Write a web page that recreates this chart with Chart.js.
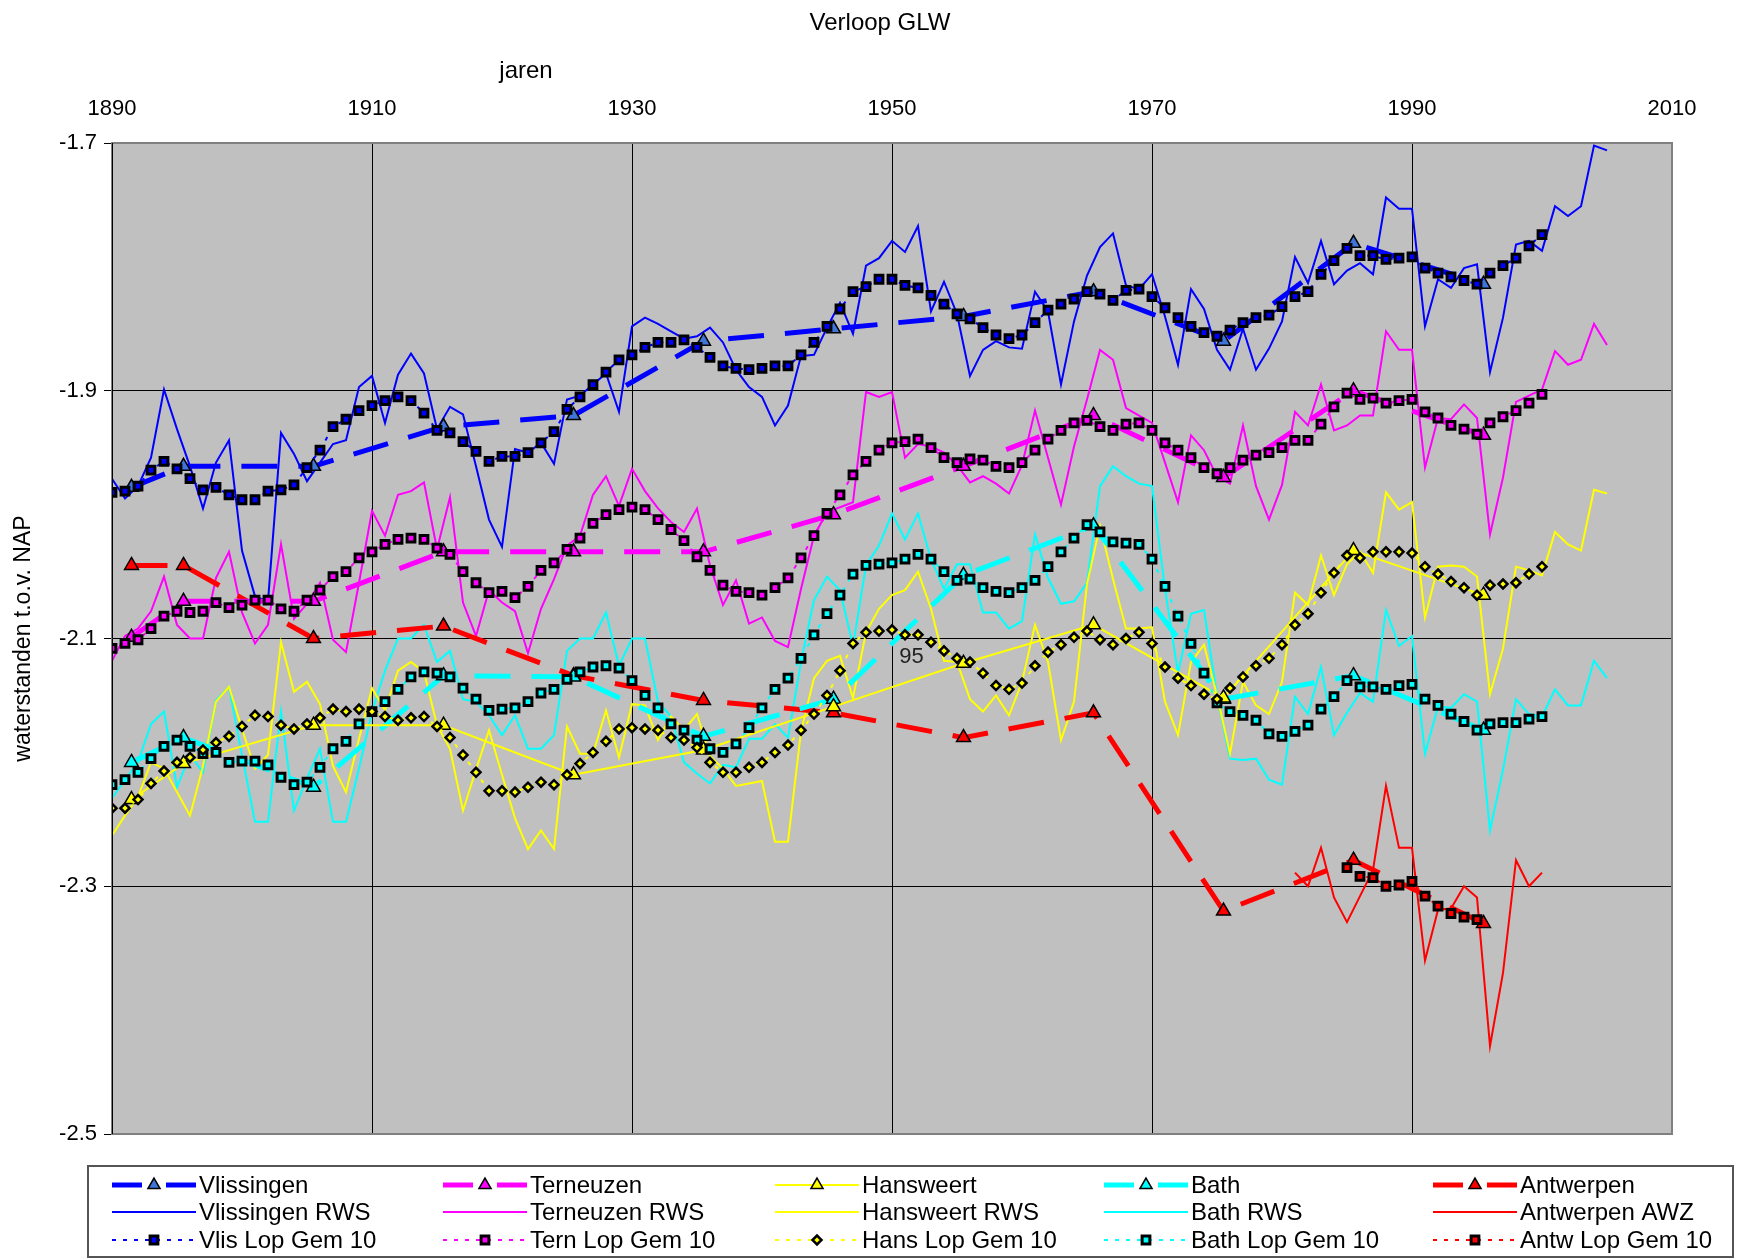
<!DOCTYPE html>
<html>
<head>
<meta charset="utf-8">
<title>Verloop GLW</title>
<script src="https://cdn.jsdelivr.net/npm/chart.js@4.4.1/dist/chart.umd.min.js"></script>
<style>
  html, body { margin: 0; padding: 0; background: #fff; }
  canvas { display: block; }
</style>
</head>
<body>
<canvas id="myChart" width="1740" height="1258"></canvas>
<script>
// jaren voor de jaarlijkse reeksen
const years = [
  1890, 1891, 1892, 1893, 1894, 1895, 1896, 1897, 1898, 1899,
  1900, 1901, 1902, 1903, 1904, 1905, 1906, 1907, 1908, 1909,
  1910, 1911, 1912, 1913, 1914, 1915, 1916, 1917, 1918, 1919,
  1920, 1921, 1922, 1923, 1924, 1925, 1926, 1927, 1928, 1929,
  1930, 1931, 1932, 1933, 1934, 1935, 1936, 1937, 1938, 1939,
  1940, 1941, 1942, 1943, 1944, 1945, 1946, 1947, 1948, 1949,
  1950, 1951, 1952, 1953, 1954, 1955, 1956, 1957, 1958, 1959,
  1960, 1961, 1962, 1963, 1964, 1965, 1966, 1967, 1968, 1969,
  1970, 1971, 1972, 1973, 1974, 1975, 1976, 1977, 1978, 1979,
  1980, 1981, 1982, 1983, 1984, 1985, 1986, 1987, 1988, 1989,
  1990, 1991, 1992, 1993, 1994, 1995, 1996, 1997, 1998, 1999,
  2000, 2001, 2002, 2003, 2004, 2005,
];

// midden van elk decennium (decadegemiddelden)
const decadeYears = [1891.5, 1895.5, 1905.5, 1915.5, 1925.5, 1935.5, 1945.5, 1955.5, 1965.5, 1975.5, 1985.5, 1995.5];

const vlissingen = [-1.978, -1.961, -1.961, -1.929, -1.920, -1.860, -1.850, -1.840, -1.820, -1.860, -1.781, -1.814];
const terneuzen = [-2.099, -2.070, -2.070, -2.030, -2.030, -2.030, -2.000, -1.961, -1.920, -1.970, -1.900, -1.936];
const hansweert = [-2.230, -2.201, -2.170, -2.170, -2.210, -2.190, -2.155, -2.120, -2.089, -2.148, -2.029, -2.065];
const bath = [-2.200, -2.180, -2.220, -2.130, -2.131, -2.179, -2.149, -2.049, -2.009, -2.149, -2.130, -2.174];
const antwerpen = [-2.041, -2.041, -2.100, -2.090, -2.130, -2.150, -2.160, -2.180, -2.160, -2.320, -2.279, -2.330];

// jaarwaarden 1890-2005
const vlissingenRws = [
  -1.971, -1.987, -1.977, -1.954, -1.899, -1.931, -1.961, -1.995, -1.958, -1.940,
  -2.029, -2.066, -2.070, -1.934, -1.951, -1.973, -1.958, -1.943, -1.940, -1.897,
  -1.888, -1.926, -1.887, -1.870, -1.886, -1.931, -1.913, -1.919, -1.961, -2.004,
  -2.026, -1.947, -1.950, -1.942, -1.959, -1.907, -1.904, -1.895, -1.886, -1.917,
  -1.848, -1.841, -1.846, -1.852, -1.858, -1.856, -1.849, -1.861, -1.883, -1.897,
  -1.905, -1.928, -1.912, -1.872, -1.871, -1.849, -1.829, -1.854, -1.799, -1.793,
  -1.779, -1.788, -1.767, -1.836, -1.812, -1.838, -1.888, -1.867, -1.860, -1.865,
  -1.866, -1.820, -1.836, -1.895, -1.844, -1.807, -1.784, -1.773, -1.815, -1.818,
  -1.806, -1.840, -1.879, -1.818, -1.834, -1.867, -1.883, -1.850, -1.883, -1.866,
  -1.844, -1.792, -1.813, -1.779, -1.814, -1.803, -1.797, -1.806, -1.744, -1.753,
  -1.753, -1.848, -1.810, -1.817, -1.801, -1.798, -1.885, -1.841, -1.782, -1.779,
  -1.787, -1.751, -1.759, -1.751, -1.702, -1.706,
];
const terneuzenRws = [
  -2.118, -2.098, -2.092, -2.078, -2.050, -2.089, -2.100, -2.100, -2.051, -2.030,
  -2.079, -2.104, -2.089, -2.024, -2.084, -2.072, -2.055, -2.101, -2.111, -2.055,
  -1.997, -2.017, -1.984, -1.981, -1.974, -2.028, -1.986, -2.071, -2.098, -2.061,
  -2.071, -2.078, -2.112, -2.076, -2.052, -2.025, -2.017, -1.984, -1.969, -1.993,
  -1.963, -1.981, -1.995, -2.006, -2.014, -1.995, -2.041, -2.073, -2.053, -2.088,
  -2.083, -2.102, -2.107, -2.060, -2.017, -1.998, -1.994, -1.990, -1.901, -1.905,
  -1.901, -1.954, -1.943, -1.945, -1.950, -1.960, -1.974, -1.969, -1.975, -1.983,
  -1.960, -1.916, -1.954, -1.992, -1.945, -1.907, -1.867, -1.875, -1.914, -1.920,
  -1.926, -1.958, -1.990, -1.936, -1.948, -1.969, -1.975, -1.928, -1.977, -2.004,
  -1.976, -1.917, -1.928, -1.895, -1.932, -1.928, -1.920, -1.920, -1.852, -1.867,
  -1.867, -1.962, -1.922, -1.923, -1.911, -1.922, -2.016, -1.970, -1.909, -1.904,
  -1.899, -1.868, -1.879, -1.875, -1.846, -1.863,
];
const hansweertRws = [
  -2.259, -2.243, -2.228, -2.200, -2.205, -2.224, -2.243, -2.203, -2.151, -2.139,
  -2.173, -2.205, -2.194, -2.103, -2.143, -2.135, -2.153, -2.203, -2.224, -2.181,
  -2.140, -2.158, -2.126, -2.119, -2.127, -2.170, -2.189, -2.239, -2.206, -2.174,
  -2.210, -2.245, -2.270, -2.255, -2.270, -2.171, -2.193, -2.193, -2.158, -2.196,
  -2.153, -2.154, -2.182, -2.163, -2.174, -2.161, -2.195, -2.205, -2.219, -2.217,
  -2.215, -2.264, -2.264, -2.175, -2.132, -2.118, -2.114, -2.148, -2.095, -2.076,
  -2.065, -2.061, -2.046, -2.076, -2.118, -2.119, -2.149, -2.159, -2.146, -2.162,
  -2.135, -2.089, -2.119, -2.182, -2.151, -2.056, -2.009, -2.052, -2.092, -2.092,
  -2.091, -2.151, -2.178, -2.119, -2.105, -2.146, -2.193, -2.135, -2.154, -2.161,
  -2.135, -2.063, -2.073, -2.033, -2.065, -2.040, -2.030, -2.047, -1.982, -1.996,
  -1.990, -2.083, -2.042, -2.041, -2.042, -2.050, -2.145, -2.108, -2.042, -2.045,
  -2.049, -2.014, -2.024, -2.029, -1.980, -1.983,
];
const bathRws = [
  -2.229, -2.214, -2.200, -2.169, -2.159, -2.220, -2.194, -2.208, -2.150, -2.139,
  -2.194, -2.248, -2.248, -2.159, -2.239, -2.213, -2.189, -2.248, -2.248, -2.205,
  -2.159, -2.126, -2.100, -2.100, -2.089, -2.119, -2.110, -2.149, -2.151, -2.162,
  -2.178, -2.162, -2.189, -2.189, -2.178, -2.110, -2.100, -2.100, -2.079, -2.122,
  -2.100, -2.100, -2.151, -2.163, -2.200, -2.209, -2.217, -2.202, -2.204, -2.181,
  -2.181, -2.169, -2.180, -2.119, -2.069, -2.050, -2.061, -2.106, -2.041, -2.025,
  -1.999, -2.020, -1.999, -2.036, -2.060, -2.040, -2.040, -2.079, -2.079, -2.092,
  -2.086, -2.016, -2.051, -2.072, -2.070, -2.055, -1.977, -1.961, -1.969, -1.975,
  -1.977, -2.060, -2.128, -2.080, -2.077, -2.146, -2.197, -2.198, -2.197, -2.214,
  -2.218, -2.147, -2.161, -2.123, -2.178, -2.160, -2.144, -2.151, -2.077, -2.106,
  -2.098, -2.193, -2.155, -2.156, -2.145, -2.151, -2.255, -2.206, -2.149, -2.161,
  -2.163, -2.141, -2.154, -2.154, -2.118, -2.132,
];
// Antwerpen AWZ loopt van 1981 tot 2000
const antwerpenAwz = [
  -2.289, -2.300, -2.269, -2.309, -2.329, -2.308, -2.287, -2.219, -2.269,
  -2.269, -2.360, -2.319, -2.318, -2.300, -2.309, -2.429, -2.370, -2.279, -2.300,
  -2.289,
];

// lopend gemiddelde over 10 jaar, 1890-2000
const vlisLop = [
  -1.982, -1.981, -1.977, -1.964, -1.957, -1.963, -1.971, -1.980, -1.978, -1.984,
  -1.988, -1.988, -1.981, -1.980, -1.976, -1.962, -1.948, -1.929, -1.923, -1.916,
  -1.912, -1.908, -1.905, -1.908, -1.918, -1.932, -1.934, -1.941, -1.949, -1.957,
  -1.953, -1.953, -1.950, -1.942, -1.933, -1.915, -1.905, -1.895, -1.885, -1.875,
  -1.871, -1.865, -1.861, -1.861, -1.859, -1.865, -1.873, -1.880, -1.882, -1.883,
  -1.882, -1.880, -1.880, -1.871, -1.861, -1.848, -1.834, -1.820, -1.816, -1.810,
  -1.810, -1.815, -1.817, -1.823, -1.830, -1.838, -1.842, -1.849, -1.855, -1.858,
  -1.855, -1.845, -1.835, -1.830, -1.826, -1.820, -1.822, -1.827, -1.819, -1.818,
  -1.824, -1.833, -1.841, -1.848, -1.853, -1.856, -1.851, -1.845, -1.841, -1.839,
  -1.832, -1.824, -1.820, -1.806, -1.795, -1.785, -1.791, -1.791, -1.794, -1.793,
  -1.792, -1.801, -1.805, -1.808, -1.811, -1.814, -1.805, -1.799, -1.793, -1.783,
  -1.774,
];
const ternLop = [
  -2.108, -2.104, -2.101, -2.092, -2.082, -2.078, -2.079, -2.078, -2.071, -2.075,
  -2.073, -2.069, -2.069, -2.076, -2.078, -2.069, -2.061, -2.050, -2.046, -2.035,
  -2.030, -2.024, -2.020, -2.019, -2.020, -2.027, -2.032, -2.046, -2.055, -2.063,
  -2.062, -2.067, -2.058, -2.045, -2.039, -2.028, -2.019, -2.007, -2.000, -1.996,
  -1.994, -1.996, -2.004, -2.012, -2.021, -2.034, -2.045, -2.057, -2.062, -2.063,
  -2.065, -2.059, -2.051, -2.035, -2.017, -1.999, -1.984, -1.968, -1.957, -1.948,
  -1.942, -1.941, -1.939, -1.946, -1.954, -1.958, -1.955, -1.956, -1.961, -1.962,
  -1.958, -1.948, -1.939, -1.932, -1.926, -1.924, -1.929, -1.932, -1.927, -1.926,
  -1.932, -1.942, -1.948, -1.954, -1.962, -1.967, -1.962, -1.956, -1.952, -1.950,
  -1.946, -1.940, -1.940, -1.927, -1.913, -1.902, -1.907, -1.906, -1.910, -1.908,
  -1.907, -1.917, -1.922, -1.928, -1.931, -1.935, -1.926, -1.921, -1.916, -1.910,
  -1.903,
];
const hansLop = [
  -2.237, -2.237, -2.230, -2.217, -2.207, -2.200, -2.196, -2.190, -2.184, -2.179,
  -2.171, -2.162, -2.163, -2.170, -2.173, -2.169, -2.164, -2.157, -2.159, -2.157,
  -2.159, -2.163, -2.166, -2.164, -2.163, -2.171, -2.180, -2.194, -2.208, -2.223,
  -2.223, -2.224, -2.220, -2.216, -2.218, -2.210, -2.201, -2.192, -2.183, -2.173,
  -2.172, -2.173, -2.174, -2.180, -2.182, -2.188, -2.200, -2.208, -2.208, -2.204,
  -2.200, -2.192, -2.186, -2.174, -2.161, -2.146, -2.126, -2.104, -2.095, -2.094,
  -2.093, -2.097, -2.097, -2.103, -2.110, -2.116, -2.119, -2.128, -2.138, -2.141,
  -2.136, -2.122, -2.111, -2.105, -2.099, -2.094, -2.101, -2.105, -2.100, -2.095,
  -2.104, -2.123, -2.132, -2.138, -2.145, -2.149, -2.140, -2.131, -2.122, -2.116,
  -2.105, -2.089, -2.080, -2.063, -2.047, -2.033, -2.035, -2.030, -2.030, -2.030,
  -2.031, -2.042, -2.048, -2.054, -2.059, -2.065, -2.057, -2.056, -2.055, -2.048,
  -2.042,
];
const bathLop = [
  -2.218, -2.214, -2.208, -2.197, -2.187, -2.182, -2.187, -2.193, -2.192, -2.200,
  -2.199, -2.199, -2.202, -2.212, -2.218, -2.216, -2.204, -2.189, -2.183, -2.169,
  -2.159, -2.151, -2.141, -2.131, -2.127, -2.128, -2.131, -2.140, -2.149, -2.158,
  -2.157, -2.156, -2.151, -2.144, -2.141, -2.133, -2.127, -2.123, -2.122, -2.124,
  -2.134, -2.146, -2.156, -2.169, -2.174, -2.182, -2.189, -2.192, -2.185, -2.172,
  -2.156, -2.141, -2.132, -2.116, -2.097, -2.080, -2.065, -2.048, -2.041, -2.040,
  -2.039, -2.036, -2.032, -2.036, -2.046, -2.053, -2.052, -2.059, -2.062, -2.063,
  -2.059, -2.053, -2.042, -2.030, -2.019, -2.008, -2.014, -2.022, -2.023, -2.024,
  -2.036, -2.058, -2.082, -2.104, -2.128, -2.152, -2.159, -2.162, -2.166, -2.177,
  -2.179, -2.175, -2.170, -2.157, -2.147, -2.134, -2.139, -2.139, -2.141, -2.138,
  -2.137, -2.149, -2.154, -2.161, -2.167, -2.174, -2.169, -2.168, -2.168, -2.165,
  -2.163,
];
// Antwerpen lopend gemiddelde, 1985-1995
const antwLop = [-2.285, -2.292, -2.293, -2.300, -2.299, -2.296, -2.308, -2.316, -2.322, -2.325, -2.327];

const xTicks = [1890, 1910, 1930, 1950, 1970, 1990, 2010];
const yTicks = [-2.5, -2.3, -2.1, -1.9, -1.7];

const FONT = "'Liberation Sans', Arial, sans-serif";

const toPoints = (xs, ys) => ys.map((y, i) => ({ x: xs[i], y: y }));

// dikke gestreepte lijn met driehoekjes
function decadeSet(label, data, color, fill, dashed) {
  return {
    label: label,
    data: toPoints(decadeYears, data),
    borderColor: color,
    borderWidth: dashed ? 5 : 2,
    borderDash: dashed ? [36, 21] : [],
    pointStyle: "triangle",
    pointRadius: 8,
    pointBackgroundColor: fill,
    pointBorderColor: "#000",
    pointBorderWidth: 1.5,
    order: 2,
    legendKind: dashed ? "dash" : "solid",
  };
}

// dunne lijn met jaarwaarden
function yearSet(label, data, color, first) {
  return {
    label: label,
    data: toPoints(years.slice(first), data),
    borderColor: color,
    borderWidth: 2,
    pointRadius: 0,
    order: 3,
    legendKind: "solid",
  };
}

// lopend gemiddelde: stippellijn met blokjes
function runSet(label, data, color, style, first) {
  return {
    label: label,
    data: toPoints(years.slice(first), data),
    borderColor: color,
    borderWidth: 2,
    borderDash: [4, 7],
    pointStyle: style,
    pointRadius: style === "rect" ? 5.5 : 4.5,
    pointBackgroundColor: color,
    pointBorderColor: "#000",
    pointBorderWidth: style === "rect" ? 3 : 2.5,
    order: 1,
    legendKind: "dot",
  };
}

const datasets = [
  decadeSet("Vlissingen", vlissingen, "#0000ff", "#3f74d9", true),
  decadeSet("Terneuzen", terneuzen, "#ff00ff", "#ff00ff", true),
  decadeSet("Hansweert", hansweert, "#ffff00", "#ffff00", false),
  decadeSet("Bath", bath, "#00ffff", "#00ffff", true),
  decadeSet("Antwerpen", antwerpen, "#ff0000", "#ff0000", true),
  yearSet("Vlissingen RWS", vlissingenRws, "#0000ff", 0),
  yearSet("Terneuzen RWS", terneuzenRws, "#ff00ff", 0),
  yearSet("Hansweert RWS", hansweertRws, "#ffff00", 0),
  yearSet("Bath RWS", bathRws, "#00ffff", 0),
  yearSet("Antwerpen AWZ", antwerpenAwz, "#ff0000", 91),
  runSet("Vlis Lop Gem 10", vlisLop, "#0000ff", "rect", 0),
  runSet("Tern Lop Gem 10", ternLop, "#ff00ff", "rect", 0),
  runSet("Hans Lop Gem 10", hansLop, "#ffff00", "rectRot", 0),
  runSet("Bath Lop Gem 10", bathLop, "#00ffff", "rect", 0),
  runSet("Antw Lop Gem 10", antwLop, "#ff0000", "rect", 95),
];

// grijze achtergrond van het plotvlak
const plotArea = {
  id: "plotArea",
  beforeDraw(chart) {
    const { ctx, chartArea: a } = chart;
    ctx.save();
    ctx.fillStyle = "#fff";
    ctx.fillRect(0, 0, chart.width, chart.height);
    ctx.fillStyle = "#c0c0c0";
    ctx.fillRect(a.left, a.top, a.right - a.left, a.bottom - a.top);
    ctx.restore();
  },
  afterDraw(chart) {
    const { ctx, chartArea: a } = chart;
    ctx.save();
    ctx.strokeStyle = "#808080";
    ctx.lineWidth = 2;
    ctx.strokeRect(a.left, a.top, a.right - a.left, a.bottom - a.top);
    ctx.strokeStyle = "#000";
    ctx.lineWidth = 1;
    ctx.beginPath();
    ctx.moveTo(a.left + 0.5, a.top);
    ctx.lineTo(a.left + 0.5, a.bottom);
    ctx.stroke();
    ctx.restore();
  },
};

// titel, "jaren", het label "95" en de legenda
const extraText = {
  id: "extraText",
  afterDraw(chart) {
    const ctx = chart.ctx;
    const sx = chart.scales.x;
    const sy = chart.scales.y;
    ctx.save();
    ctx.fillStyle = "#000";
    ctx.textBaseline = "middle";
    ctx.textAlign = "center";
    ctx.font = "24px " + FONT;
    ctx.fillText("Verloop GLW", 880, 23);
    ctx.fillText("jaren", 526, 71);
    ctx.font = "22px " + FONT;
    ctx.fillStyle = "#222";
    ctx.fillText("95", sx.getPixelForValue(1951.5), sy.getPixelForValue(-2.115));

    // legenda
    ctx.strokeStyle = "#555";
    ctx.lineWidth = 2;
    ctx.strokeRect(88, 1166, 1645, 91);
    const cols = [112, 443, 775, 1104, 1433];
    const rows = [1185, 1212, 1240];
    ctx.textAlign = "left";
    ctx.font = "24px " + FONT;
    chart.data.datasets.forEach((ds, i) => {
      const x0 = cols[i % 5];
      const y = rows[Math.floor(i / 5)];
      ctx.strokeStyle = ds.borderColor;
      ctx.lineWidth = ds.borderWidth;
      ctx.beginPath();
      if (ds.legendKind === "dash") {
        ctx.moveTo(x0, y);
        ctx.lineTo(x0 + 30, y);
        ctx.moveTo(x0 + 54, y);
        ctx.lineTo(x0 + 84, y);
        ctx.setLineDash([]);
      } else if (ds.legendKind === "dot") {
        ctx.setLineDash([4, 7]);
        ctx.moveTo(x0, y);
        ctx.lineTo(x0 + 84, y);
      } else {
        ctx.setLineDash([]);
        ctx.moveTo(x0, y);
        ctx.lineTo(x0 + 84, y);
      }
      ctx.stroke();
      ctx.setLineDash([]);
      if (ds.pointRadius > 0) {
        ctx.fillStyle = ds.pointBackgroundColor;
        ctx.strokeStyle = "#000";
        ctx.lineWidth = ds.pointBorderWidth;
        Chart.helpers.drawPoint(ctx, {
          pointStyle: ds.pointStyle,
          radius: ds.pointStyle === "triangle" ? 7 : ds.pointRadius,
          rotation: 0,
          borderWidth: ds.pointBorderWidth,
        }, x0 + 42, y);
      }
      ctx.fillStyle = "#000";
      ctx.fillText(ds.label, x0 + 87, y + 1);
    });
    ctx.restore();
  },
};

const ctx = document.getElementById("myChart").getContext("2d");

new Chart(ctx, {
  type: "line",
  data: { datasets: datasets },
  options: {
    responsive: false,
    animation: false,
    events: [],
    layout: { padding: { left: 0, top: 0, right: 68, bottom: 124 } },
    elements: { line: { tension: 0 } },
    plugins: {
      legend: { display: false },
      tooltip: { enabled: false },
      title: { display: false },
    },
    scales: {
      x: {
        type: "linear",
        position: "top",
        min: xTicks[0],
        max: xTicks[xTicks.length - 1],
        afterFit(scale) { scale.height = 143; },
        afterBuildTicks(scale) { scale.ticks = xTicks.map((v) => ({ value: v })); },
        ticks: {
          color: "#000",
          padding: 21,
          font: { family: FONT, size: 22 },
          callback: (v) => String(v),
        },
        grid: { color: "#000", lineWidth: 1, drawTicks: false },
        border: { display: false },
      },
      y: {
        type: "linear",
        min: yTicks[0],
        max: yTicks[yTicks.length - 1],
        afterFit(scale) { scale.width = 112; },
        afterBuildTicks(scale) { scale.ticks = yTicks.map((v) => ({ value: v })); },
        ticks: {
          color: "#000",
          padding: 7,
          font: { family: FONT, size: 22 },
          callback: (v) => v.toFixed(1),
        },
        grid: { color: "#000", lineWidth: 1, tickLength: 8, tickColor: "#000" },
        border: { display: false },
        title: {
          display: true,
          text: "waterstanden t.o.v. NAP",
          color: "#000",
          padding: { top: 10, bottom: 0 },
          font: { family: FONT, size: 23 },
        },
      },
    },
  },
  plugins: [plotArea, extraText],
});
</script>
</body>
</html>
